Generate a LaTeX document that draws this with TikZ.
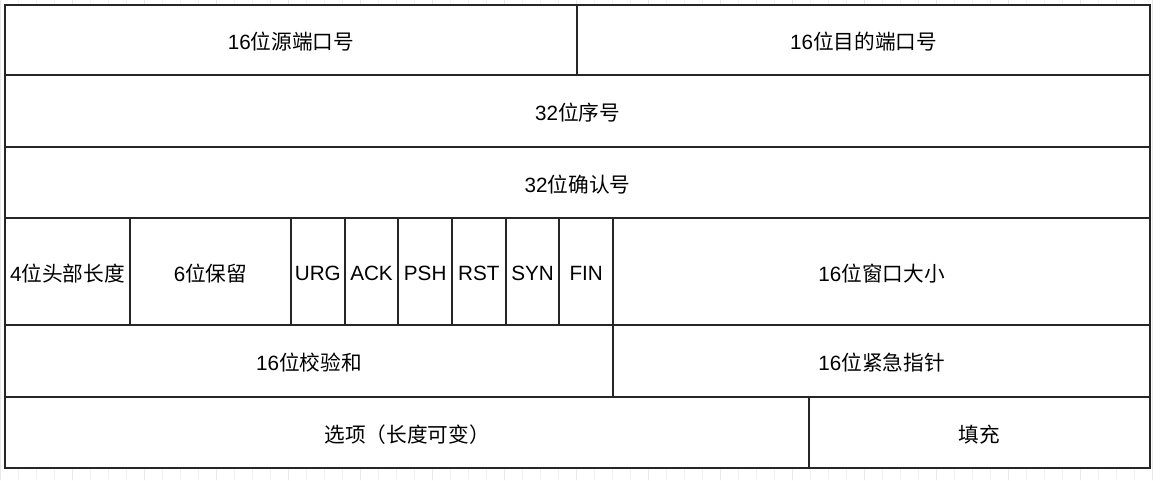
\documentclass[tikz,border=0pt]{standalone}
\usepackage{fontspec}
\setmainfont{Liberation Sans}
\newfontfamily\zh{Noto Sans CJK SC}
\tikzset{
    cell/.style={draw=black!85, line width=1.5pt, fill=white},
    label/.style={font=\fontsize{15.5}{18}\selectfont, inner sep=0pt, yshift=-1.5pt},
}
\begin{document}
\begin{tikzpicture}[x=0.75pt, y=-0.75pt]
        \useasboundingbox (0,0) rectangle (1160,480);
        %% faint background grid
        \draw[black!5, line width=0.6pt, step=18] (-13,-13) grid (1160,480);
        \draw[black!9, line width=0.6pt, step=72] (-67,-67) grid (1160,480);
        %% row 1: ports
        \draw[cell] (5,5) rectangle (577,75) node[midway, label] (srcport) {16{\zh 位源端口号}};
        \draw[cell] (577,5) rectangle (1150,75) node[midway, label] (dstport) {16{\zh 位目的端口号}};
        %% rows 2 and 3
        \draw[cell] (5,75) rectangle (1150,147) node[midway, label] (seqnum) {32{\zh 位序号}};
        \draw[cell] (5,147) rectangle (1150,218) node[midway, label] (acknum) {32{\zh 位确认号}};
        %% row 4: header length, reserved, flags, window
        \draw[cell] (5,218) rectangle (130,325) node[midway, label] (hdrlen) {4{\zh 位头部长度}};
        \draw[cell] (130,218) rectangle (291,325) node[midway, label] (reserved) {6{\zh 位保留}};
        \foreach \flag [count=\i] in {URG,ACK,PSH,RST,SYN,FIN}
            \draw[cell] ({291+(\i-1)*53.67},218) rectangle ({291+\i*53.67},325)
                node[midway, label] (flag\i) {\flag};
        \draw[cell] (613,218) rectangle (1150,325) node[midway, label] (window) {16{\zh 位窗口大小}};
        %% row 5
        \draw[cell] (5,325) rectangle (613,397) node[midway, label] (checksum) {16{\zh 位校验和}};
        \draw[cell] (613,325) rectangle (1150,397) node[midway, label] (urgent) {16{\zh 位紧急指针}};
        %% row 6
        \draw[cell] (5,397) rectangle (809,468) node[midway, label] (options) {{\zh 选项（长度可变）}};
        \draw[cell] (809,397) rectangle (1150,468) node[midway, label] (padding) {{\zh 填充}};
    \end{tikzpicture}
\end{document}
